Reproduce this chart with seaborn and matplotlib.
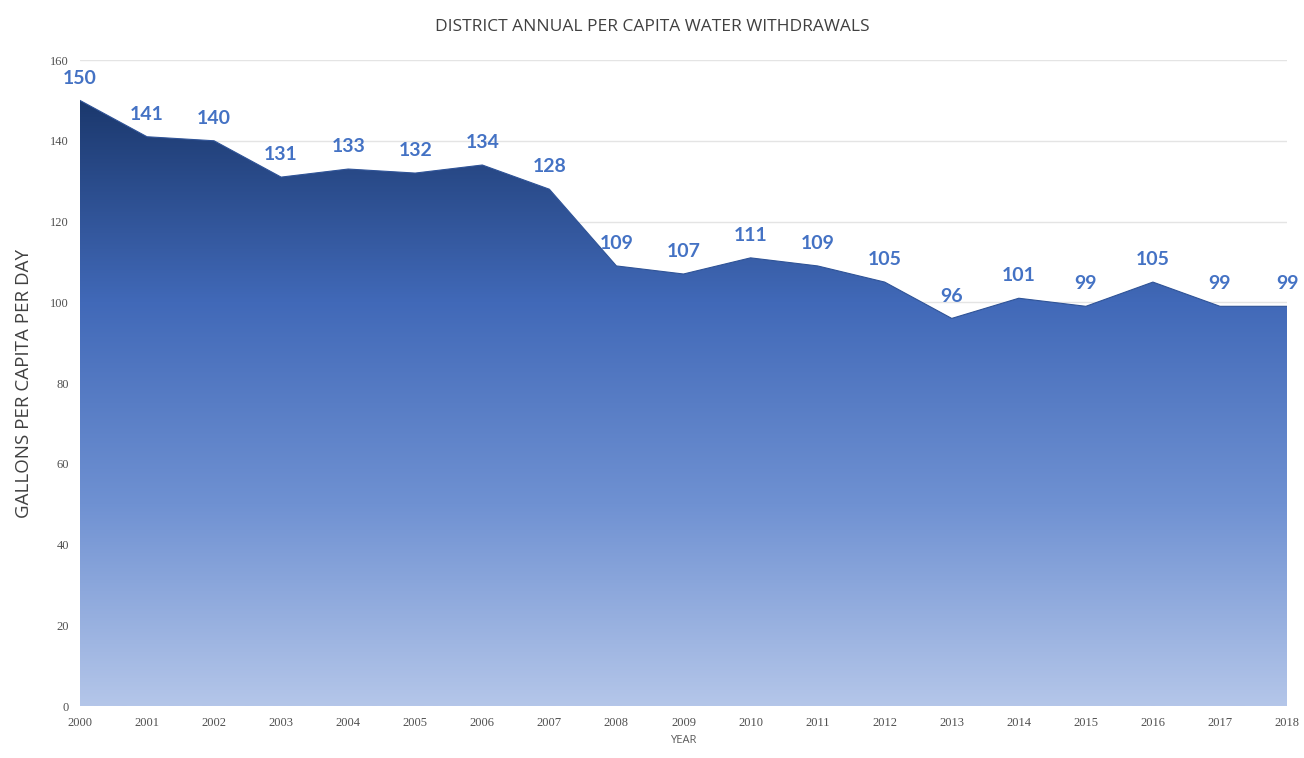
import numpy as np
import pandas as pd
import seaborn as sns
import matplotlib.pyplot as plt
from matplotlib.colors import LinearSegmentedColormap

# --- Data ---
years = [2000, 2001, 2002, 2003, 2004, 2005, 2006, 2007, 2008, 2009,
         2010, 2011, 2012, 2013, 2014, 2015, 2016, 2017, 2018]
gpcd = [150, 141, 140, 131, 133, 132, 134, 128, 109, 107,
        111, 109, 105, 96, 101, 99, 105, 99, 99]
y_ticks = [0, 20, 40, 60, 80, 100, 120, 140, 160]

df = pd.DataFrame({'year': years, 'gpcd': gpcd})

sns.set_style('white')
plt.rcParams['font.family'] = ['Open Sans', 'DejaVu Sans']

fig = plt.figure(figsize=(13.04, 7.58), dpi=100)
ax = fig.add_axes([0.0613, 0.0686, 0.9257, 0.8522])

# gridlines
for t in y_ticks[1:]:
    ax.axhline(t, color='#e4e4e4', lw=1.0, zorder=0)

# gradient area fill, clipped to the area under the line
poly = ax.fill_between(df['year'], df['gpcd'], 0, color='none', lw=0)
cmap = LinearSegmentedColormap.from_list(
    'water', ['#b4c6e9', '#6f91d2', '#4169b8', '#1b386d'])
grad = np.linspace(0, 1, 256).reshape(-1, 1)
img = ax.imshow(grad, cmap=cmap, aspect='auto', origin='lower',
                extent=[years[0], years[-1], 0, max(gpcd)], zorder=1)
img.set_clip_path(poly.get_paths()[0], transform=ax.transData)

sns.lineplot(data=df, x='year', y='gpcd', ax=ax, color='#2f5397', lw=0.8,
             zorder=2)

# data labels
for x, y in zip(years, gpcd):
    ax.annotate(str(y), (x, y), xytext=(0, 10), textcoords='offset points',
                ha='center', va='bottom', fontsize=14, fontweight='bold',
                color='#4472c4', family=['Lato', 'DejaVu Sans'])

ax.set_xlim(years[0], years[-1])
ax.set_ylim(0, 160)
ax.set_xticks(years)
ax.set_yticks(y_ticks)
ax.set_xticklabels([str(y) for y in years], fontsize=9, color='#505050',
                   family='Liberation Serif')
ax.set_yticklabels([str(t) for t in y_ticks], fontsize=9, color='#505050',
                   family='Liberation Serif')
ax.tick_params(axis='both', length=0, pad=8)
for s in ax.spines.values():
    s.set_visible(False)

ax.set_xlabel('YEAR', fontsize=8, color='#595959', labelpad=4)
ax.set_ylabel('GALLONS PER CAPITA PER DAY', fontsize=13.5, color='#404040',
              labelpad=12)
fig.text(0.5, 0.965, 'DISTRICT ANNUAL PER CAPITA WATER WITHDRAWALS',
         ha='center', va='center', fontsize=12.5, color='#404040')

fig.savefig('out.png', dpi=100)
